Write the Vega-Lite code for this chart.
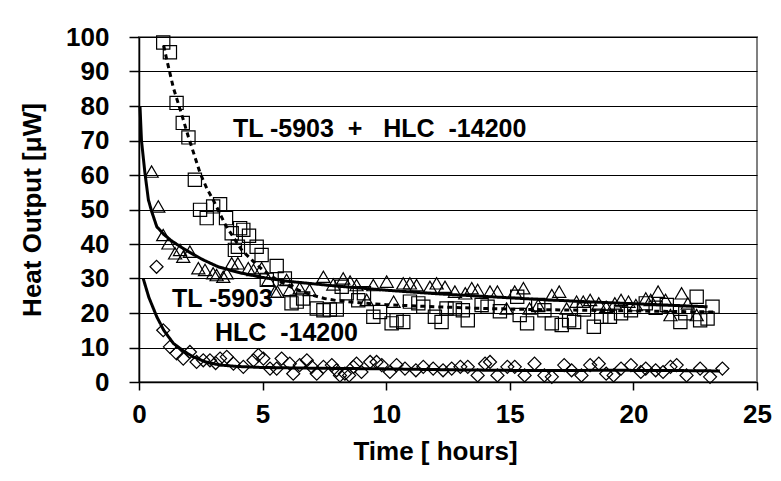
{
  "$schema": "https://vega.github.io/schema/vega-lite/v6.json",
  "width": 618,
  "height": 345,
  "autosize": {"type": "none"},
  "padding": {"left": 139, "top": 37, "right": 24, "bottom": 99},
  "background": "white",
  "config": {
    "font": "Liberation Sans",
    "view": {"stroke": "#808080", "strokeWidth": 2},
    "axis": {
      "labelFont": "Liberation Sans",
      "titleFont": "Liberation Sans",
      "labelFontSize": 26,
      "labelFontWeight": "bold",
      "labelColor": "black",
      "labelOverlap": false,
      "labelFlush": false,
      "titleFontSize": 26,
      "titleFontWeight": "bold",
      "titleColor": "black",
      "domainColor": "black",
      "domainWidth": 1.5,
      "tickColor": "black",
      "tickWidth": 1.5
    }
  },
  "datasets": {
    "frame": [{"side": "frame"}],
    "pts": [
      {"series": "TL+HLC", "t": 0.98, "q": 98.4}, {"series": "TL+HLC", "t": 1.25, "q": 95.6}, {"series": "TL+HLC", "t": 1.52, "q": 80.9}, {"series": "TL+HLC", "t": 1.77, "q": 75.1}, {"series": "TL+HLC", "t": 2.0, "q": 70.9}, {"series": "TL+HLC", "t": 2.26, "q": 58.6}, {"series": "TL+HLC", "t": 2.47, "q": 49.9}, {"series": "TL+HLC", "t": 2.74, "q": 47.5}, {"series": "TL+HLC", "t": 3.0, "q": 50.9}, {"series": "TL+HLC", "t": 3.28, "q": 51.5}, {"series": "TL+HLC", "t": 3.52, "q": 47.5}, {"series": "TL+HLC", "t": 3.75, "q": 43.1}, {"series": "TL+HLC", "t": 3.88, "q": 38.3}, {"series": "TL+HLC", "t": 4.0, "q": 39.2}, {"series": "TL+HLC", "t": 4.09, "q": 44.6}, {"series": "TL+HLC", "t": 4.22, "q": 44.1}, {"series": "TL+HLC", "t": 4.45, "q": 42.4}, {"series": "TL+HLC", "t": 4.76, "q": 39.2}, {"series": "TL+HLC", "t": 4.96, "q": 36.8}, {"series": "TL+HLC", "t": 5.17, "q": 29.6}, {"series": "TL+HLC", "t": 5.57, "q": 33.6}, {"series": "TL+HLC", "t": 5.9, "q": 30}, {"series": "TL+HLC", "t": 6.17, "q": 22.8}, {"series": "TL+HLC", "t": 6.38, "q": 23.3}, {"series": "TL+HLC", "t": 6.64, "q": 24.2}, {"series": "TL+HLC", "t": 7.19, "q": 21.3}, {"series": "TL+HLC", "t": 7.46, "q": 20.8}, {"series": "TL+HLC", "t": 7.72, "q": 21}, {"series": "TL+HLC", "t": 8.0, "q": 21}, {"series": "TL+HLC", "t": 8.2, "q": 27.6}, {"series": "TL+HLC", "t": 8.4, "q": 25.7}, {"series": "TL+HLC", "t": 8.87, "q": 23.7}, {"series": "TL+HLC", "t": 9.1, "q": 25.7}, {"series": "TL+HLC", "t": 9.48, "q": 18.9}, {"series": "TL+HLC", "t": 9.75, "q": 20.3}, {"series": "TL+HLC", "t": 10.22, "q": 17}, {"series": "TL+HLC", "t": 10.42, "q": 17.9}, {"series": "TL+HLC", "t": 10.69, "q": 17.4}, {"series": "TL+HLC", "t": 10.96, "q": 23.3}, {"series": "TL+HLC", "t": 11.3, "q": 22.8}, {"series": "TL+HLC", "t": 11.5, "q": 21.8}, {"series": "TL+HLC", "t": 11.97, "q": 18.9}, {"series": "TL+HLC", "t": 12.24, "q": 17.4}, {"series": "TL+HLC", "t": 12.44, "q": 21.3}, {"series": "TL+HLC", "t": 12.78, "q": 21.3}, {"series": "TL+HLC", "t": 13.1, "q": 20.8}, {"series": "TL+HLC", "t": 13.3, "q": 17.9}, {"series": "TL+HLC", "t": 13.86, "q": 22.3}, {"series": "TL+HLC", "t": 14.1, "q": 21.8}, {"series": "TL+HLC", "t": 14.6, "q": 20.5}, {"series": "TL+HLC", "t": 15.3, "q": 24.7}, {"series": "TL+HLC", "t": 15.4, "q": 19.4}, {"series": "TL+HLC", "t": 15.7, "q": 17}, {"series": "TL+HLC", "t": 16.15, "q": 22.3}, {"series": "TL+HLC", "t": 16.4, "q": 20.8}, {"series": "TL+HLC", "t": 16.7, "q": 17}, {"series": "TL+HLC", "t": 17.1, "q": 16.5}, {"series": "TL+HLC", "t": 17.4, "q": 17.9}, {"series": "TL+HLC", "t": 17.6, "q": 17.4}, {"series": "TL+HLC", "t": 18.0, "q": 21}, {"series": "TL+HLC", "t": 18.4, "q": 16}, {"series": "TL+HLC", "t": 18.7, "q": 18.9}, {"series": "TL+HLC", "t": 19.05, "q": 18.9}, {"series": "TL+HLC", "t": 19.5, "q": 19.9}, {"series": "TL+HLC", "t": 19.9, "q": 20.8}, {"series": "TL+HLC", "t": 20.5, "q": 22.8}, {"series": "TL+HLC", "t": 20.9, "q": 21.5}, {"series": "TL+HLC", "t": 21.35, "q": 22.3}, {"series": "TL+HLC", "t": 21.9, "q": 17.4}, {"series": "TL+HLC", "t": 22.1, "q": 19.9}, {"series": "TL+HLC", "t": 22.56, "q": 24.7}, {"series": "TL+HLC", "t": 22.7, "q": 17.9}, {"series": "TL+HLC", "t": 23.0, "q": 18.4}, {"series": "TL+HLC", "t": 23.2, "q": 21.8},
      {"series": "TL", "t": 0.51, "q": 61}, {"series": "TL", "t": 0.78, "q": 50.9}, {"series": "TL", "t": 0.98, "q": 42.6}, {"series": "TL", "t": 1.19, "q": 40.2}, {"series": "TL", "t": 1.46, "q": 37.3}, {"series": "TL", "t": 1.66, "q": 38.3}, {"series": "TL", "t": 1.79, "q": 36.3}, {"series": "TL", "t": 2.06, "q": 37.8}, {"series": "TL", "t": 2.4, "q": 33}, {"series": "TL", "t": 2.67, "q": 32.5}, {"series": "TL", "t": 3.0, "q": 31.5}, {"series": "TL", "t": 3.14, "q": 31}, {"series": "TL", "t": 3.41, "q": 30.5}, {"series": "TL", "t": 3.55, "q": 31.5}, {"series": "TL", "t": 3.75, "q": 34.4}, {"series": "TL", "t": 4.0, "q": 34.4}, {"series": "TL", "t": 4.42, "q": 33}, {"series": "TL", "t": 4.63, "q": 32.5}, {"series": "TL", "t": 4.96, "q": 33}, {"series": "TL", "t": 5.23, "q": 29.6}, {"series": "TL", "t": 5.5, "q": 26.2}, {"series": "TL", "t": 5.6, "q": 26.2}, {"series": "TL", "t": 5.97, "q": 29.6}, {"series": "TL", "t": 6.1, "q": 26.7}, {"series": "TL", "t": 6.5, "q": 27.2}, {"series": "TL", "t": 6.9, "q": 26.7}, {"series": "TL", "t": 7.46, "q": 30.5}, {"series": "TL", "t": 7.86, "q": 28.3}, {"series": "TL", "t": 8.26, "q": 30}, {"series": "TL", "t": 8.54, "q": 29.1}, {"series": "TL", "t": 8.8, "q": 28.1}, {"series": "TL", "t": 9.21, "q": 23.8}, {"series": "TL", "t": 9.48, "q": 28.1}, {"series": "TL", "t": 10.02, "q": 29.1}, {"series": "TL", "t": 10.3, "q": 23.3}, {"series": "TL", "t": 10.69, "q": 28.6}, {"series": "TL", "t": 10.96, "q": 28.6}, {"series": "TL", "t": 11.23, "q": 28.1}, {"series": "TL", "t": 11.77, "q": 27.6}, {"series": "TL", "t": 12.04, "q": 28.6}, {"series": "TL", "t": 12.38, "q": 27.6}, {"series": "TL", "t": 12.78, "q": 26.2}, {"series": "TL", "t": 13.2, "q": 25.7}, {"series": "TL", "t": 13.46, "q": 27.2}, {"series": "TL", "t": 13.7, "q": 26.7}, {"series": "TL", "t": 14.2, "q": 26.2}, {"series": "TL", "t": 14.5, "q": 26.2}, {"series": "TL", "t": 14.87, "q": 21.3}, {"series": "TL", "t": 15.2, "q": 26.2}, {"series": "TL", "t": 15.55, "q": 27.2}, {"series": "TL", "t": 15.8, "q": 21.3}, {"series": "TL", "t": 16.15, "q": 22.3}, {"series": "TL", "t": 16.7, "q": 25.2}, {"series": "TL", "t": 17.0, "q": 26.2}, {"series": "TL", "t": 17.3, "q": 21.3}, {"series": "TL", "t": 17.7, "q": 23.3}, {"series": "TL", "t": 17.97, "q": 23.3}, {"series": "TL", "t": 18.25, "q": 23.8}, {"series": "TL", "t": 18.6, "q": 22.8}, {"series": "TL", "t": 18.9, "q": 21.8}, {"series": "TL", "t": 19.25, "q": 22.8}, {"series": "TL", "t": 19.5, "q": 23.8}, {"series": "TL", "t": 19.8, "q": 23.3}, {"series": "TL", "t": 20.1, "q": 22.3}, {"series": "TL", "t": 20.5, "q": 24.2}, {"series": "TL", "t": 20.7, "q": 23.8}, {"series": "TL", "t": 21.0, "q": 26.2}, {"series": "TL", "t": 21.3, "q": 23.8}, {"series": "TL", "t": 21.5, "q": 19.4}, {"series": "TL", "t": 21.95, "q": 25.7}, {"series": "TL", "t": 22.2, "q": 22.8}, {"series": "TL", "t": 22.56, "q": 19.4},
      {"series": "HLC", "t": 0.71, "q": 33.4}, {"series": "HLC", "t": 0.98, "q": 15}, {"series": "HLC", "t": 1.25, "q": 10.2}, {"series": "HLC", "t": 1.52, "q": 8.3}, {"series": "HLC", "t": 1.79, "q": 6.8}, {"series": "HLC", "t": 2.06, "q": 8.7}, {"series": "HLC", "t": 2.33, "q": 5.8}, {"series": "HLC", "t": 2.6, "q": 6.3}, {"series": "HLC", "t": 2.87, "q": 6.3}, {"series": "HLC", "t": 3.1, "q": 5.5}, {"series": "HLC", "t": 3.28, "q": 6.8}, {"series": "HLC", "t": 3.55, "q": 7.3}, {"series": "HLC", "t": 3.82, "q": 5.3}, {"series": "HLC", "t": 4.22, "q": 4.4}, {"series": "HLC", "t": 4.63, "q": 6.3}, {"series": "HLC", "t": 4.83, "q": 7.8}, {"series": "HLC", "t": 5.03, "q": 6.8}, {"series": "HLC", "t": 5.3, "q": 3.9}, {"series": "HLC", "t": 5.57, "q": 3.9}, {"series": "HLC", "t": 5.77, "q": 6.8}, {"series": "HLC", "t": 6.1, "q": 5.3}, {"series": "HLC", "t": 6.24, "q": 2.4}, {"series": "HLC", "t": 6.5, "q": 4.9}, {"series": "HLC", "t": 6.79, "q": 6.3}, {"series": "HLC", "t": 6.99, "q": 4.4}, {"series": "HLC", "t": 7.19, "q": 2.4}, {"series": "HLC", "t": 7.46, "q": 4.4}, {"series": "HLC", "t": 7.8, "q": 4.9}, {"series": "HLC", "t": 7.99, "q": 3.4}, {"series": "HLC", "t": 8.13, "q": 1.9}, {"series": "HLC", "t": 8.33, "q": 2.4}, {"series": "HLC", "t": 8.5, "q": 1.9}, {"series": "HLC", "t": 8.67, "q": 4.4}, {"series": "HLC", "t": 8.8, "q": 5.3}, {"series": "HLC", "t": 9.0, "q": 2.9}, {"series": "HLC", "t": 9.35, "q": 5.8}, {"series": "HLC", "t": 9.61, "q": 5.8}, {"series": "HLC", "t": 9.82, "q": 4.9}, {"series": "HLC", "t": 10.15, "q": 2.9}, {"series": "HLC", "t": 10.42, "q": 4.9}, {"series": "HLC", "t": 10.76, "q": 3.9}, {"series": "HLC", "t": 11.2, "q": 3.4}, {"series": "HLC", "t": 11.5, "q": 4.4}, {"series": "HLC", "t": 11.9, "q": 3.9}, {"series": "HLC", "t": 12.3, "q": 3.4}, {"series": "HLC", "t": 12.65, "q": 3.9}, {"series": "HLC", "t": 13.0, "q": 4.4}, {"series": "HLC", "t": 13.3, "q": 4.4}, {"series": "HLC", "t": 13.7, "q": 1.9}, {"series": "HLC", "t": 14.0, "q": 5.3}, {"series": "HLC", "t": 14.2, "q": 5.8}, {"series": "HLC", "t": 14.5, "q": 1.9}, {"series": "HLC", "t": 14.9, "q": 4.4}, {"series": "HLC", "t": 15.2, "q": 4.4}, {"series": "HLC", "t": 15.6, "q": 1.9}, {"series": "HLC", "t": 16.0, "q": 5.3}, {"series": "HLC", "t": 16.4, "q": 1.9}, {"series": "HLC", "t": 16.7, "q": 1.5}, {"series": "HLC", "t": 17.2, "q": 4.9}, {"series": "HLC", "t": 17.5, "q": 3.4}, {"series": "HLC", "t": 17.9, "q": 1.9}, {"series": "HLC", "t": 18.25, "q": 4.9}, {"series": "HLC", "t": 18.6, "q": 5.3}, {"series": "HLC", "t": 18.9, "q": 2.4}, {"series": "HLC", "t": 19.2, "q": 1.9}, {"series": "HLC", "t": 19.5, "q": 3.9}, {"series": "HLC", "t": 19.9, "q": 4.9}, {"series": "HLC", "t": 20.3, "q": 2.9}, {"series": "HLC", "t": 20.5, "q": 3.9}, {"series": "HLC", "t": 20.9, "q": 3.4}, {"series": "HLC", "t": 21.2, "q": 2.9}, {"series": "HLC", "t": 21.5, "q": 4.4}, {"series": "HLC", "t": 21.75, "q": 4.9}, {"series": "HLC", "t": 22.15, "q": 1.9}, {"series": "HLC", "t": 22.7, "q": 3.9}, {"series": "HLC", "t": 23.1, "q": 1.5}, {"series": "HLC", "t": 23.6, "q": 3.9}
    ],
    "fits": [
      {"series": "TL+HLC", "t": 1.0, "q": 97.5}, {"series": "TL+HLC", "t": 1.12, "q": 93.5}, {"series": "TL+HLC", "t": 1.39, "q": 85.3}, {"series": "TL+HLC", "t": 1.75, "q": 77}, {"series": "TL+HLC", "t": 2.0, "q": 71}, {"series": "TL+HLC", "t": 2.25, "q": 65.5}, {"series": "TL+HLC", "t": 2.47, "q": 60.6}, {"series": "TL+HLC", "t": 2.75, "q": 56}, {"series": "TL+HLC", "t": 3.0, "q": 52.8}, {"series": "TL+HLC", "t": 3.5, "q": 45.5}, {"series": "TL+HLC", "t": 4.15, "q": 38.3}, {"series": "TL+HLC", "t": 4.56, "q": 35.4}, {"series": "TL+HLC", "t": 5.0, "q": 32.5}, {"series": "TL+HLC", "t": 5.5, "q": 30}, {"series": "TL+HLC", "t": 6.0, "q": 28}, {"series": "TL+HLC", "t": 6.5, "q": 26.5}, {"series": "TL+HLC", "t": 7.0, "q": 25.2}, {"series": "TL+HLC", "t": 7.5, "q": 24.2}, {"series": "TL+HLC", "t": 8.0, "q": 23.6}, {"series": "TL+HLC", "t": 9.0, "q": 22.9}, {"series": "TL+HLC", "t": 10.0, "q": 22.4}, {"series": "TL+HLC", "t": 12.0, "q": 21.8}, {"series": "TL+HLC", "t": 14.0, "q": 21.3}, {"series": "TL+HLC", "t": 16.0, "q": 21}, {"series": "TL+HLC", "t": 18.0, "q": 20.8}, {"series": "TL+HLC", "t": 20.0, "q": 20.6}, {"series": "TL+HLC", "t": 22.0, "q": 20.4}, {"series": "TL+HLC", "t": 23.3, "q": 20.3},
      {"series": "TL", "t": 0.04, "q": 80}, {"series": "TL", "t": 0.1, "q": 70}, {"series": "TL", "t": 0.24, "q": 60.6}, {"series": "TL", "t": 0.38, "q": 52.8}, {"series": "TL", "t": 0.51, "q": 49.5}, {"series": "TL", "t": 0.72, "q": 45}, {"series": "TL", "t": 1.0, "q": 42.8}, {"series": "TL", "t": 1.3, "q": 41}, {"series": "TL", "t": 1.66, "q": 39.3}, {"series": "TL", "t": 2.0, "q": 37.8}, {"series": "TL", "t": 2.54, "q": 35.6}, {"series": "TL", "t": 3.2, "q": 33.4}, {"series": "TL", "t": 4.0, "q": 31.8}, {"series": "TL", "t": 5.0, "q": 30.3}, {"series": "TL", "t": 6.0, "q": 29.2}, {"series": "TL", "t": 7.0, "q": 28.5}, {"series": "TL", "t": 8.0, "q": 27.8}, {"series": "TL", "t": 9.0, "q": 27.2}, {"series": "TL", "t": 10.0, "q": 26.6}, {"series": "TL", "t": 12.0, "q": 25.6}, {"series": "TL", "t": 14.0, "q": 24.8}, {"series": "TL", "t": 16.0, "q": 24}, {"series": "TL", "t": 18.0, "q": 23.3}, {"series": "TL", "t": 20.0, "q": 22.7}, {"series": "TL", "t": 22.0, "q": 22.1}, {"series": "TL", "t": 23.0, "q": 21.8},
      {"series": "HLC", "t": 0.17, "q": 30}, {"series": "HLC", "t": 0.4, "q": 24.5}, {"series": "HLC", "t": 0.72, "q": 18.9}, {"series": "HLC", "t": 1.0, "q": 15}, {"series": "HLC", "t": 1.39, "q": 11.2}, {"series": "HLC", "t": 1.8, "q": 9}, {"series": "HLC", "t": 2.19, "q": 7.3}, {"series": "HLC", "t": 2.7, "q": 5.8}, {"series": "HLC", "t": 3.28, "q": 4.9}, {"series": "HLC", "t": 4.0, "q": 4.5}, {"series": "HLC", "t": 5.0, "q": 4.2}, {"series": "HLC", "t": 7.0, "q": 4.0}, {"series": "HLC", "t": 10.0, "q": 3.8}, {"series": "HLC", "t": 13.0, "q": 3.5}, {"series": "HLC", "t": 16.0, "q": 3.3}, {"series": "HLC", "t": 19.0, "q": 3.4}, {"series": "HLC", "t": 22.0, "q": 3.3}, {"series": "HLC", "t": 23.5, "q": 3.2}
    ],
    "labels": [
      {"t": 3.8, "q": 73.4, "label": "TL -5903\u00a0\u00a0+\u00a0\u00a0\u00a0HLC\u00a0\u00a0-14200"},
      {"t": 1.33, "q": 24.2, "label": "TL -5903"},
      {"t": 3.07, "q": 14.3, "label": "HLC\u00a0\u00a0-14200"}
    ]
  },
  "encoding": {
    "x": {"field": "t", "type": "quantitative", "scale": {"domain": [0, 25], "nice": false, "zero": false},
      "axis": {"values": [0, 5, 10, 15, 20, 25], "title": "Time [ hours]", "tickSize": 8, "labelPadding": 11, "titlePadding": 11, "titleX": 296, "titleAnchor": "middle", "grid": false}},
    "y": {"field": "q", "type": "quantitative", "scale": {"domain": [0, 100], "nice": false},
      "axis": {"values": [0, 10, 20, 30, 40, 50, 60, 70, 80, 90, 100], "tickCount": 11, "title": "Heat Output [μW]", "tickSize": 10, "labelPadding": 20, "titlePadding": 20, "grid": true, "gridColor": "black", "gridWidth": 1, "gridOpacity": 1}}
  },
  "layer": [
    {
      "data": {"name": "pts"},
      "mark": {"type": "point", "filled": false, "stroke": "black", "strokeWidth": 1.2, "opacity": 1},
      "encoding": {
        "shape": {"field": "series", "type": "nominal", "scale": {"domain": ["TL+HLC", "TL", "HLC"], "range": ["square", "triangle-up", "diamond"]}, "legend": null},
        "size": {"field": "series", "type": "nominal", "scale": {"domain": ["TL+HLC", "TL", "HLC"], "range": [175, 170, 210]}, "legend": null}
      }
    },
    {
      "data": {"name": "fits"},
      "mark": {"type": "line", "color": "black", "strokeWidth": 3},
      "encoding": {
        "detail": {"field": "series", "type": "nominal"},
        "strokeDash": {"field": "series", "type": "nominal", "scale": {"domain": ["TL+HLC", "TL", "HLC"], "range": [[5, 4], [1, 0], [1, 0]]}, "legend": null}
      }
    },
    {
      "data": {"name": "labels"},
      "mark": {"type": "text", "align": "left", "baseline": "middle", "fontSize": 25, "fontWeight": "bold", "font": "Liberation Sans", "color": "black"},
      "encoding": {
        "text": {"field": "label", "type": "nominal"}
      }
    },
    {
      "data": {"name": "frame"},
      "mark": {"type": "rule", "color": "#808080", "strokeWidth": 2},
      "encoding": {"x": {"datum": 25}, "y": {"datum": 0}, "y2": {"datum": 100}}
    },
    {
      "data": {"name": "frame"},
      "mark": {"type": "rule", "color": "#808080", "strokeWidth": 2},
      "encoding": {"y": {"datum": 100}, "x": {"datum": 0}, "x2": {"datum": 25}}
    }
  ]
}
